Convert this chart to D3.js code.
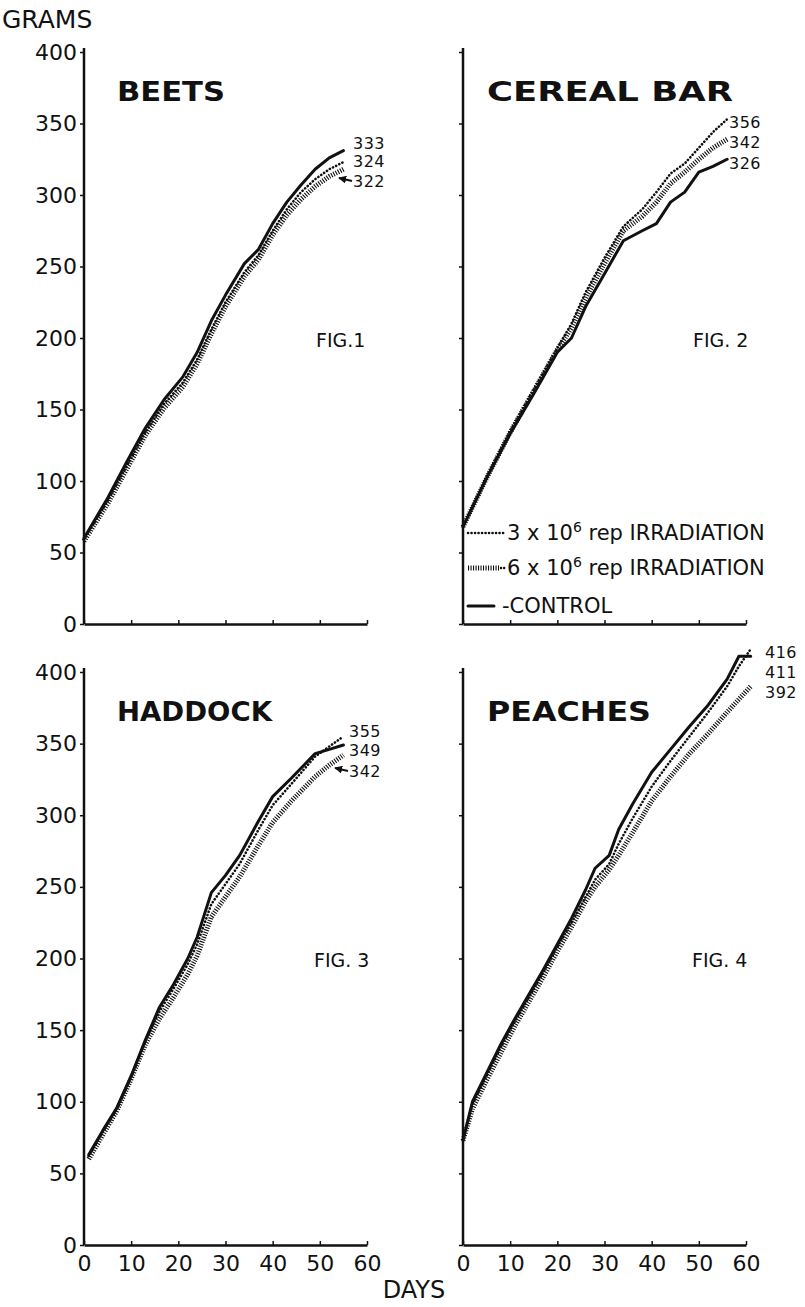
<!DOCTYPE html>
<html>
<head>
<meta charset="utf-8">
<script src="https://cdn.jsdelivr.net/npm/d3@7"></script>
<style>
  body { margin: 0; background: #fff; }
  text { font-family: "DejaVu Sans", sans-serif; fill: #111; }
</style>
</head>
<body>
<div id="chart-area"></div>
<script>
// DATA ---------------------------------------------------
var yTicks = [0, 50, 100, 150, 200, 250, 300, 350, 400];
var xTicks = [0, 10, 20, 30, 40, 50, 60];

var beetsDays    = [0, 5, 9, 13, 17, 21, 24, 27, 30, 34, 37, 40, 43, 46, 49, 52, 55];
var beetsControl = [60, 88, 113, 137, 157, 173, 190, 212, 230, 252, 262, 280, 295, 307, 318, 326, 331];
var beets3       = [59, 86, 110, 134, 154, 169, 185, 206, 225, 246, 258, 275, 290, 302, 311, 318, 323];
var beets6       = [58, 84, 108, 132, 151, 166, 182, 203, 222, 243, 255, 272, 286, 297, 306, 313, 318];

var cerealDays    = [0, 5, 10, 15, 20, 23, 26, 30, 34, 38, 41, 44, 47, 50, 53, 56];
var cerealControl = [68, 102, 133, 161, 190, 200, 222, 245, 268, 275, 280, 295, 302, 316, 320, 325];
var cereal3       = [68, 103, 135, 164, 193, 210, 232, 256, 278, 290, 302, 315, 322, 333, 344, 353];
var cereal6       = [68, 102, 134, 163, 192, 207, 228, 252, 275, 285, 295, 308, 316, 325, 333, 339];

var haddockDays    = [1, 4, 7, 10, 13, 16, 19, 22, 24, 27, 30, 33, 37, 40, 44, 49, 52, 55];
var haddockControl = [63, 80, 96, 118, 143, 166, 182, 200, 215, 246, 258, 272, 296, 313, 326, 343, 346, 349];
var haddock3       = [62, 79, 95, 117, 142, 163, 179, 196, 210, 238, 252, 266, 290, 307, 322, 341, 348, 355];
var haddock6       = [60, 77, 94, 116, 140, 158, 173, 189, 202, 229, 243, 257, 279, 295, 310, 327, 335, 342];

var peachDays    = [0, 2, 5, 8, 11, 14, 17, 20, 23, 26, 28, 31, 33, 36, 40, 44, 48, 52, 56, 58.5, 61];
var peachControl = [73, 100, 120, 140, 158, 175, 192, 210, 228, 248, 263, 272, 290, 308, 330, 346, 362, 377, 395, 411, 411];
var peach3       = [73, 98, 118, 138, 156, 173, 190, 208, 225, 243, 255, 266, 280, 298, 320, 338, 355, 372, 390, 404, 416];
var peach6       = [73, 95, 115, 134, 153, 170, 187, 205, 222, 240, 250, 262, 272, 288, 310, 327, 343, 357, 372, 381, 390];

var titles = ["BEETS", "CEREAL BAR", "HADDOCK", "PEACHES"];
var figLabels = ["FIG.1", "FIG. 2", "FIG. 3", "FIG. 4"];
var endLabels = [["333", "324", "322"], ["356", "342", "326"], ["355", "349", "342"], ["416", "411", "392"]];

// LAYOUT ---------------------------------------------------
var svg = d3.select("#chart-area")
    .append("svg")
        .attr("width", 805)
        .attr("height", 1307);

function zip(days, vals) {
    return days.map(function(d, i) { return [d, vals[i]]; });
}

var panels = [
    { left: 84,  top: 52,  bottom: 624,  days: beetsDays,   series: [beets6, beets3, beetsControl],       yLabels: true,  xLabels: false,
      labelX: 353, labelY: [149, 167, 187], arrow: 2, figPos: [316, 347], titleW: 108 },
    { left: 463, top: 52,  bottom: 624,  days: cerealDays,  series: [cereal6, cereal3, cerealControl],    yLabels: false, xLabels: false,
      labelX: 729, labelY: [128, 148, 169], arrow: -1, figPos: [693, 347], titleW: 246 },
    { left: 84,  top: 672, bottom: 1245, days: haddockDays, series: [haddock6, haddock3, haddockControl], yLabels: true,  xLabels: true,
      labelX: 349, labelY: [737, 756, 777], arrow: 2, figPos: [314, 967], titleW: 155 },
    { left: 463, top: 672, bottom: 1245, days: peachDays,   series: [peach6, peach3, peachControl],       yLabels: false, xLabels: true,
      labelX: 765, labelY: [658, 678, 698], arrow: -1, figPos: [692, 967], titleW: 164 }
];

// styles for 6e6 (hatched), 3e6 (dotted), control (solid)
var styles = [
    { width: 5,   dash: "1.1,1.4", cap: "butt" },
    { width: 2.6, dash: "0.1,3.4", cap: "round" },
    { width: 3,   dash: null,      cap: "round" }
];

svg.append("defs").append("marker")
    .attr("id", "arrow")
    .attr("viewBox", "0 0 10 10")
    .attr("refX", 9).attr("refY", 5)
    .attr("markerWidth", 4).attr("markerHeight", 4)
    .attr("orient", "auto")
  .append("path")
    .attr("d", "M0,0 L10,5 L0,10 z")
    .attr("fill", "#111");

panels.forEach(function(p, i) {
    var x = d3.scaleLinear().domain([0, 60]).range([p.left, p.left + 283]);
    var y = d3.scaleLinear().domain([0, 400]).range([p.bottom, p.top]);
    var g = svg.append("g");

    // Y AXIS
    var yAxis = d3.axisLeft(y).tickValues(yTicks).tickSize(4).tickSizeOuter(0).tickPadding(3);
    if (!p.yLabels) yAxis.tickFormat("");
    var ya = g.append("g")
        .attr("transform", "translate(" + p.left + ",0)")
        .call(yAxis);
    ya.select(".domain").attr("stroke", "#111").attr("stroke-width", 2.5)
        .attr("d", "M0," + (p.top - 4) + "V" + p.bottom);
    ya.selectAll(".tick line").attr("stroke", "#111").attr("stroke-width", 1.5);
    ya.selectAll(".tick text").attr("font-size", "22px").attr("fill", "#111");

    // X AXIS
    var xAxis = d3.axisBottom(x).tickValues(xTicks).tickSize(-4).tickSizeOuter(0).tickPadding(10);
    if (!p.xLabels) xAxis.tickFormat("");
    var xa = g.append("g")
        .attr("transform", "translate(0," + p.bottom + ")")
        .call(xAxis);
    xa.select(".domain").attr("stroke", "#111").attr("stroke-width", 2.5);
    xa.selectAll(".tick line").attr("stroke", "#111").attr("stroke-width", 1.5);
    xa.selectAll(".tick text").attr("font-size", "22px").attr("fill", "#111");

    // LINES
    var line = d3.line()
        .x(function(d) { return x(d[0]); })
        .y(function(d) { return y(d[1]); });

    p.series.forEach(function(vals, k) {
        var s = styles[k];
        g.append("path")
            .datum(zip(p.days, vals))
            .attr("fill", "none")
            .attr("stroke", "#111")
            .attr("stroke-width", s.width)
            .attr("stroke-linecap", s.cap)
            .attr("stroke-linejoin", "round")
            .attr("stroke-dasharray", s.dash)
            .attr("d", line);
    });

    // TITLES (wide lettering: stretch glyphs to the reference width)
    g.append("text")
        .attr("x", p.left + (i % 2 === 0 ? 33 : 24))
        .attr("y", p.top + 49)
        .attr("font-size", "27px")
        .attr("font-weight", "bold")
        .attr("textLength", p.titleW)
        .attr("lengthAdjust", "spacingAndGlyphs")
        .text(titles[i]);

    g.append("text")
        .attr("x", p.figPos[0])
        .attr("y", p.figPos[1])
        .attr("font-size", "19px")
        .text(figLabels[i]);

    // END LABELS
    endLabels[i].forEach(function(lbl, k) {
        g.append("text")
            .attr("x", p.labelX)
            .attr("y", p.labelY[k])
            .attr("font-size", "16px")
            .attr("letter-spacing", "0.5px")
            .text(lbl);
    });
    if (p.arrow >= 0) {
        var ay = p.labelY[p.arrow] - 6;
        g.append("line")
            .attr("x1", p.labelX - 1).attr("y1", ay)
            .attr("x2", p.labelX - 14).attr("y2", ay - 3)
            .attr("stroke", "#111").attr("stroke-width", 2)
            .attr("marker-end", "url(#arrow)");
    }
});

// LEGEND (in FIG. 2)
var legendRows = [
    { y: 533, style: 1, len: 37, x: 507, main: "3 x 10", sup: "6", rest: " rep IRRADIATION" },
    { y: 568, style: 0, len: 31, x: 507, main: "6 x 10", sup: "6", rest: " rep IRRADIATION" },
    { y: 606, style: 2, len: 26, x: 502, main: "-CONTROL", sup: "", rest: "" }
];
var legend = svg.append("g");
legendRows.forEach(function(r) {
    var s = styles[r.style];
    legend.append("line")
        .attr("x1", 468).attr("x2", 468 + r.len)
        .attr("y1", r.y).attr("y2", r.y)
        .attr("stroke", "#111")
        .attr("stroke-width", s.width)
        .attr("stroke-linecap", s.cap)
        .attr("stroke-dasharray", s.dash);
    var t = legend.append("text")
        .attr("x", r.x)
        .attr("y", r.y + 7)
        .attr("font-size", "21px");
    t.append("tspan").text(r.main);
    if (r.sup) {
        t.append("tspan").attr("dy", -8).attr("font-size", "14px").text(r.sup);
        t.append("tspan").attr("dy", 8).text(r.rest);
    }
});
// small dotted join on the second legend row
legend.append("line")
    .attr("x1", 501).attr("x2", 505)
    .attr("y1", 568).attr("y2", 568)
    .attr("stroke", "#111").attr("stroke-width", 2.4)
    .attr("stroke-linecap", "round").attr("stroke-dasharray", "0.1,3");

// AXIS TITLES
svg.append("text")
    .attr("x", 2).attr("y", 28)
    .attr("font-size", "25px")
    .text("GRAMS");

svg.append("text")
    .attr("x", 414).attr("y", 1298)
    .attr("text-anchor", "middle")
    .attr("font-size", "24px")
    .text("DAYS");
</script>
</body>
</html>
